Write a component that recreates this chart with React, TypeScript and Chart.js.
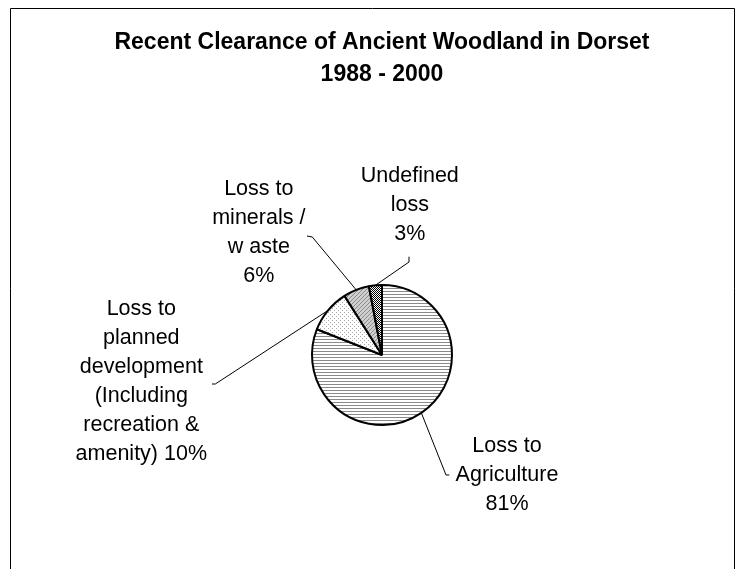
import { useEffect, useRef } from "react";
import { Chart, registerables } from "chart.js";

Chart.register(...registerables);

// ---- data ----
const titleLines = ["Recent Clearance of Ancient Woodland in Dorset", "1988 - 2000"];
const categories = [
  "Loss to Agriculture",
  "Loss to planned development (Including recreation & amenity)",
  "Loss to minerals / waste",
  "Undefined loss",
];
const values = [81, 10, 6, 3];
const labelText = [
  ["Loss to", "Agriculture"],
  ["Loss to", "planned", "development", "(Including", "recreation &", "amenity)"],
  ["Loss to", "minerals /", "w aste"],
  ["Undefined", "loss"],
];
// whether the percentage sits on its own line (true) or is appended to the last line
const percentOwnLine = [true, false, true, true];

// ---- layout (relative to pie centre) ----
const labelLayout = [
  { dx: 125, dy: 96.7, bend: [64, 120], end: [67.3, 120] },
  { dx: -240.7, dy: -40, bend: [-166.7, 29], end: [-170, 29] },
  { dx: -123.2, dy: -160, bend: [-69.7, -118], end: [-75, -119] },
  { dx: 27.8, dy: -173.3, bend: [27, -93], end: [27, -98.3] },
];
const LINE_GAP = 29;
const FONT = '"Liberation Sans", Arial, sans-serif';

function makeTile(size: number, draw: (c: CanvasRenderingContext2D) => void) {
  const t = document.createElement("canvas");
  t.width = size;
  t.height = size;
  const c = t.getContext("2d")!;
  draw(c);
  return t;
}

export default function App() {
  const ref = useRef<HTMLCanvasElement | null>(null);

  useEffect(() => {
    document.documentElement.style.overflow = "hidden";
    document.body.style.overflow = "hidden";
    const canvas = ref.current!;
    const ctx = canvas.getContext("2d")!;

    const tiles = [
      makeTile(3, (c) => {
        c.fillStyle = "#fff";
        c.fillRect(0, 0, 3, 3);
        c.fillStyle = "#8a8a8a";
        c.fillRect(0, 0, 3, 1);
      }),
      makeTile(4, (c) => {
        c.fillStyle = "#fff";
        c.fillRect(0, 0, 4, 4);
        c.fillStyle = "#a8a8a8";
        c.fillRect(0, 0, 1, 1);
        c.fillRect(2, 2, 1, 1);
      }),
      makeTile(4, (c) => {
        c.fillStyle = "#cfcfcf";
        c.fillRect(0, 0, 4, 4);
        c.fillStyle = "#8a8a8a";
        c.fillRect(0, 3, 1, 1);
        c.fillRect(1, 2, 1, 1);
        c.fillRect(2, 1, 1, 1);
        c.fillRect(3, 0, 1, 1);
      }),
      makeTile(2, (c) => {
        c.fillStyle = "#fff";
        c.fillRect(0, 0, 2, 2);
        c.fillStyle = "#000";
        c.fillRect(0, 0, 1, 1);
        c.fillRect(1, 1, 1, 1);
      }),
    ];
    const patterns = tiles.map((t) => ctx.createPattern(t, "repeat")!);

    const decor = {
      id: "decor",
      beforeDraw(chart: any) {
        const c = chart.ctx;
        c.save();
        c.fillStyle = "#fff";
        c.fillRect(0, 0, chart.width, chart.height);
        c.strokeStyle = "#000";
        c.lineWidth = 1;
        c.beginPath();
        c.moveTo(10.5, chart.height);
        c.lineTo(10.5, 8.5);
        c.lineTo(734.5, 8.5);
        c.lineTo(734.5, chart.height);
        c.stroke();
        c.restore();
      },
      afterDraw(chart: any) {
        const c = chart.ctx;
        const meta = chart.getDatasetMeta(0);
        const first = meta.data[0];
        const cx = first.x;
        const cy = first.y;
        c.save();
        // title
        c.fillStyle = "#000";
        c.textAlign = "center";
        c.textBaseline = "alphabetic";
        c.font = `bold 23px ${FONT}`;
        c.fillText(titleLines[0], cx, 49);
        c.fillText(titleLines[1], cx, 80.7);

        // labels and leader lines
        c.font = `21.5px ${FONT}`;
        meta.data.forEach((arc: any, i: number) => {
          const p = arc.getProps(["x", "y", "startAngle", "endAngle", "outerRadius"], true);
          const mid = (p.startAngle + p.endAngle) / 2;
          const ax = p.x + Math.cos(mid) * p.outerRadius;
          const ay = p.y + Math.sin(mid) * p.outerRadius;
          const L = labelLayout[i];
          c.strokeStyle = "#000";
          c.lineWidth = 1;
          c.beginPath();
          c.moveTo(ax, ay);
          c.lineTo(cx + L.bend[0], cy + L.bend[1]);
          c.lineTo(cx + L.end[0], cy + L.end[1]);
          c.stroke();

          const lines = labelText[i].slice();
          const pct = `${values[i]}%`;
          if (percentOwnLine[i]) lines.push(pct);
          else lines[lines.length - 1] = `${lines[lines.length - 1]} ${pct}`;
          lines.forEach((ln, k) => {
            c.fillText(ln, cx + L.dx, cy + L.dy + k * LINE_GAP);
          });
        });
        c.restore();
      },
    };

    const chart = new Chart(canvas, {
      type: "pie",
      data: {
        labels: categories,
        datasets: [
          {
            data: values,
            backgroundColor: patterns as any,
            borderColor: "#000",
            borderWidth: 2,
            radius: 70,
          } as any,
        ],
      },
      options: {
        responsive: false,
        animation: false,
        rotation: 0,
        layout: { padding: { left: 22, right: 0, top: 141, bottom: 0 } },
        plugins: {
          legend: { display: false },
          tooltip: { enabled: false },
          title: { display: false },
        },
        events: [],
      },
      plugins: [decor],
    });
    return () => chart.destroy();
  }, []);

  return (
    <div style={{ position: "absolute", left: 0, top: 0, width: 742, height: 569 }}>
      <canvas ref={ref} width={742} height={569} style={{ display: "block" }} />
    </div>
  );
}
